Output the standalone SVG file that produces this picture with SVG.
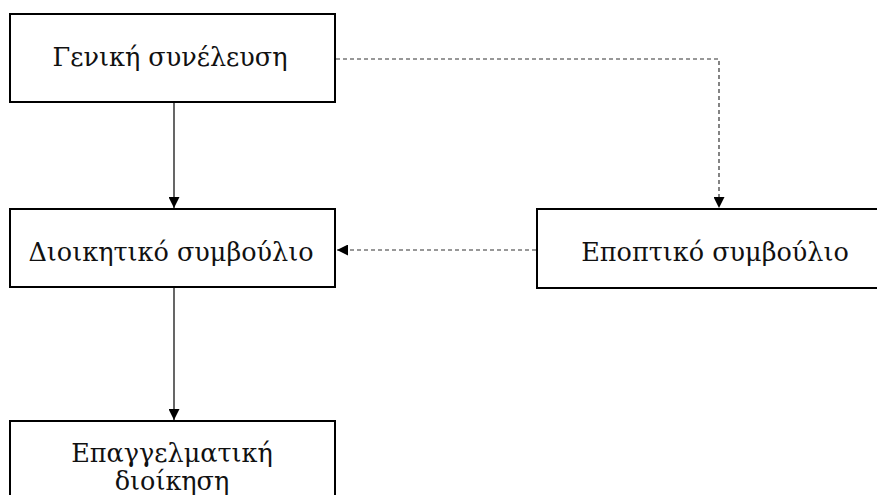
<svg xmlns="http://www.w3.org/2000/svg" width="877" height="495" viewBox="0 0 877 495">
<style>
.box{fill:#fff;stroke:#000;stroke-width:2}
.t{font-family:"DejaVu Serif","Liberation Serif",serif;font-size:25.5px;fill:#111;text-anchor:middle}
.c{fill:none;stroke:#000;stroke-width:1.2}
.d{fill:none;stroke:#333;stroke-width:1.2;stroke-dasharray:4 3}
</style>
<defs>
<marker id="ah" viewBox="0 0 10 10" refX="10" refY="5" markerWidth="11" markerHeight="11" markerUnits="userSpaceOnUse" orient="auto">
<path d="M0,0 L10,5 L0,10 z" fill="#000"/>
</marker>
</defs>
<g id="n1"><rect class="box" x="10" y="14" width="325" height="88"/><text class="t" x="170" y="66">Γενική συνέλευση</text></g>
<g id="n2"><rect class="box" x="10" y="209" width="325" height="78"/><text class="t" x="171" y="261">Διοικητικό συμβούλιο</text></g>
<g id="n3"><rect class="box" x="537" y="209" width="360" height="79"/><text class="t" x="715" y="261">Εποπτικό συμβούλιο</text></g>
<g id="n4"><rect class="box" x="10" y="421" width="325" height="90"/><text class="t" x="172" y="462">Επαγγελματική</text><text class="t" x="172" y="490">διοίκηση</text></g>
<g id="connectors">
<path class="c" d="M174,102 V208" marker-end="url(#ah)"/>
<path class="c" d="M174,287 V420" marker-end="url(#ah)"/>
<path class="d" d="M336,59 H719 V208" marker-end="url(#ah)"/>
<path class="d" d="M536,250 H337" marker-end="url(#ah)"/>
</g>
</svg>
